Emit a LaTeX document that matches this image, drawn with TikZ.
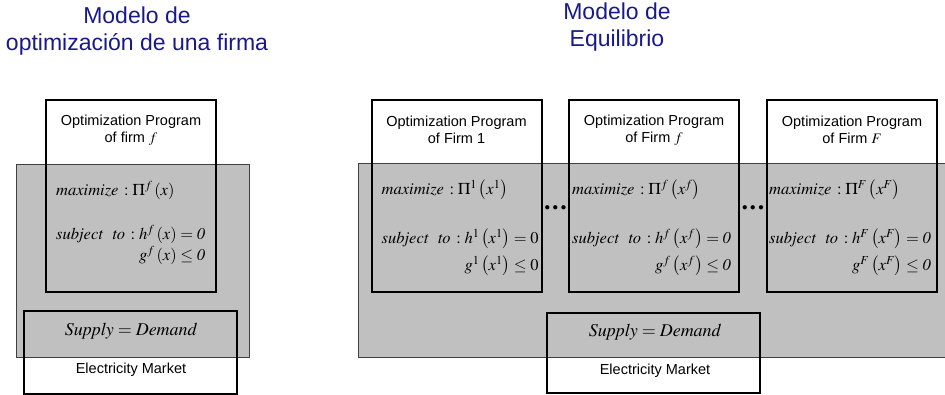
\documentclass[tikz,border=0pt]{standalone}
\usepackage{mathptmx}
\usepackage[no-math]{fontspec}
\setmainfont{Liberation Sans}
\usetikzlibrary{positioning}

\definecolor{titleblue}{RGB}{25,25,135}
\definecolor{marketgray}{RGB}{192,192,192}

\tikzset{
  marketfill/.style={draw=black!75, line width=0.8pt, fill=marketgray},
  progbox/.style={draw, line width=2pt, minimum width=170pt, minimum height=192pt, inner sep=0pt},
  marketbox/.style={draw, line width=2pt, minimum width=213pt, inner sep=0pt},
  boxlabel/.style={font=\fontsize{14.5}{17}\selectfont, align=center, inner sep=0pt},
  modeltitle/.style={font=\fontsize{23}{27.5}\selectfont, text=titleblue, align=center, inner sep=0pt},
  formula/.style={font=\fontsize{16.5}{19}\selectfont, inner sep=0pt},
  balance/.style={font=\fontsize{18}{21}\selectfont, inner sep=0pt},
  dotsnode/.style={font=\fontsize{11}{11}\selectfont, inner sep=0pt}
}

\begin{document}
\begin{tikzpicture}[x=1pt, y=-1pt]
\useasboundingbox (0,0) rectangle (945,395);

% firm optimization model
\node[modeltitle] (titleA) at (137,31) {Modelo de\\optimización de una firma};
\draw[marketfill] (16,164) rectangle (249,357);
\node[boxlabel] (headA) at (131,130) {Optimization Program\\of firm $f$};
\node[formula, anchor=west] (maxA) at (56,190) {$\mathit{maximize\,:}\;\Pi^{f}\left(x\right)$};
\node[formula, anchor=west, align=right] (consA) at (56,245)
  {$\mathit{subject\ \ to\,:}\;h^{f}\left(x\right)=\mathit{0}$\\[2pt]$g^{f}\left(x\right)\le\mathit{0}$};
\node[progbox] (progA) at (131,196) {};
\node[balance] (balA) at (131,331) {$\mathit{Supply}=\mathit{Demand}$};
\node[boxlabel] (elecA) at (131,370) {Electricity Market};
\node[marketbox, minimum height=83pt] (mktA) at (130.5,352.5) {};

% equilibrium model
\node[modeltitle] (titleB) at (617,27) {Modelo de\\Equilibrio};
\draw[marketfill] (358,163) rectangle (960,357);
\foreach \cx/\s/\hd/\zr/\nm/\lo in {456.5/1/1/0/one/10,
    654/f/$f$/\mathit{0}/f/3, 852/F/$F$/\mathit{0}/F/2}{
  \node[boxlabel] (head\nm) at (\cx,130) {Optimization Program\\of Firm \hd};
  \node[formula, anchor=west] (max\nm) at (\cx-85+\lo,190)
    {$\mathit{maximize\,:}\;\Pi^{\s}\left(x^{\s}\right)$};
  \node[formula, anchor=west, align=right] (cons\nm) at (\cx-85+\lo,252.5)
    {$\mathit{subject\ \ to\,:}\;h^{\s}\left(x^{\s}\right)=\zr$\\[6pt]$g^{\s}\left(x^{\s}\right)\le\zr$};
  \node[progbox] (prog\nm) at (\cx,196.5) {};
}
\node[dotsnode] (dotsL) at (555.5,208) {$\bullet\,\bullet\,\bullet$};
\node[dotsnode] (dotsR) at (753,208) {$\bullet\,\bullet\,\bullet$};
\node[balance] (balB) at (655,332) {$\mathit{Supply}=\mathit{Demand}$};
\node[boxlabel] (elecB) at (655,371) {Electricity Market};
\node[marketbox, minimum height=80pt] (mktB) at (653.5,353) {};
\end{tikzpicture}
\end{document}
